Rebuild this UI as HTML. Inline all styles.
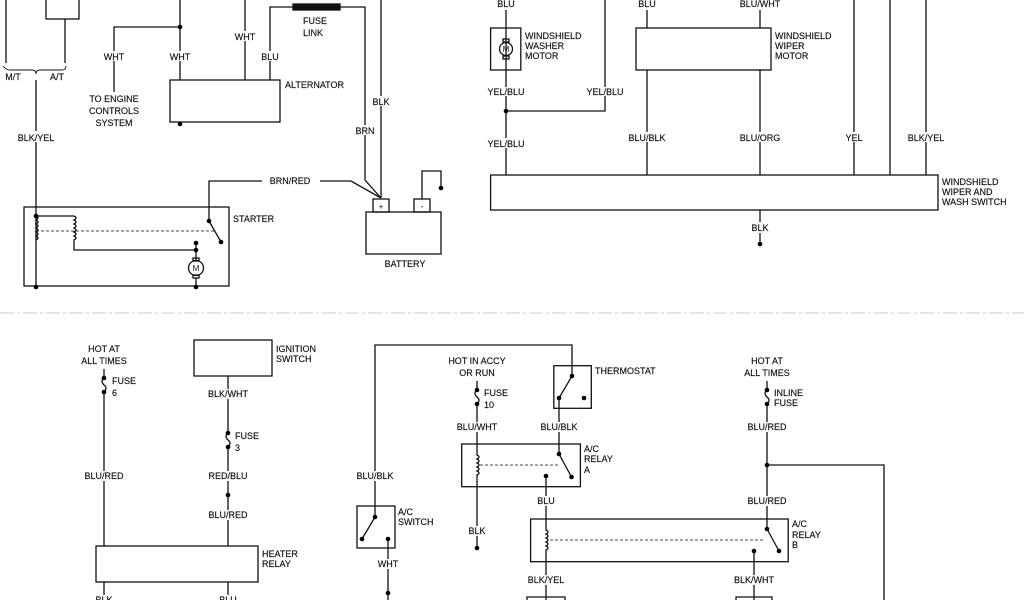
<!DOCTYPE html>
<html><head><meta charset="utf-8"><style>
html,body{margin:0;padding:0;background:#fff;}
svg{display:block;}
text{font-family:"Liberation Sans",Arial,sans-serif;font-size:9px;fill:#111;stroke:#111;stroke-width:0.15;}
.m{text-anchor:middle;}
</style></head><body>
<svg width="1024" height="600" viewBox="0 0 1024 600" xmlns="http://www.w3.org/2000/svg">
<defs>
<g id="dot"><circle r="2.3" fill="#000"/></g>
</defs>
<g stroke="#111" stroke-width="1.3" fill="none">
<!-- TOP LEFT -->
<line x1="6" y1="0" x2="6" y2="63"/>
<rect x="46" y="-2" width="33" height="21"/>
<line x1="65" y1="19" x2="65" y2="63"/>
<path d="M3 66 q3 4 7 4 h22 q4 0 4 4 q0 -4 4 -4 h22 q4 0 4 -4" stroke-width="0.9"/>
<line x1="36" y1="80" x2="36" y2="131"/>
<line x1="36" y1="142" x2="36" y2="287"/>
<line x1="180" y1="0" x2="180" y2="51"/>
<line x1="180" y1="61" x2="180" y2="80"/>
<path d="M180 27 H114 V51"/>
<line x1="114" y1="61" x2="114" y2="92"/>
<rect x="170" y="80" width="110" height="42"/>
<line x1="245" y1="0" x2="245" y2="31"/>
<line x1="245" y1="41" x2="245" y2="80"/>
<path d="M270 80 V61 M270 51 V7 H293"/>
<rect x="293" y="4" width="47" height="6" fill="#111"/>
<path d="M340 7 H365 V125 M365 135 V180 L381 198"/>
<path d="M381 0 V96 M381 106 V198"/>
<path d="M209 221 V181 H262 M320 181 H351 L381 198"/>
<rect x="373" y="199" width="16" height="13"/>
<rect x="414" y="199" width="16" height="13"/>
<rect x="366" y="212" width="75" height="42"/>
<path d="M422 199 V171 H441 V188"/>
<!-- starter -->
<rect x="24" y="207" width="205" height="79"/>
<path d="M36 216 q4 2 0 4 q4 2 0 4 q4 2 0 4 q4 2 0 4 q4 2 0 4 q4 2 0 4"/>
<path d="M36 216 H74 q4 2 0 4 q4 2 0 4 q4 2 0 4 q4 2 0 4 q4 2 0 4 q4 2 0 4 V250 H196"/>
<line x1="36" y1="231" x2="214" y2="231" stroke-dasharray="3,2" stroke-width="0.8"/>
<line x1="209" y1="221" x2="221" y2="242"/>
<line x1="196" y1="243" x2="196" y2="260"/>
<circle cx="196" cy="268" r="7.5"/>
<rect x="193" y="258" width="6" height="3"/><rect x="193" y="275" width="6" height="3"/>
<line x1="196" y1="278" x2="196" y2="287"/>
<!-- TOP RIGHT -->
<path d="M506 10 V28 M506 70 V87 M506 96 V138 M506 148 V175"/>
<rect x="490.6" y="28" width="30.2" height="42"/>
<line x1="506" y1="28" x2="506" y2="70"/>
<circle cx="506" cy="49" r="6.5"/>
<rect x="503" y="39" width="6" height="3"/><rect x="503" y="56" width="6" height="3"/>
<path d="M605 0 V87 M605 96 V111 H506"/>
<rect x="636" y="28" width="135" height="42"/>
<path d="M647 10 V28 M647 70 V132 M647 142 V175"/>
<path d="M760 10 V28 M760 70 V132 M760 142 V175"/>
<path d="M854 0 V132 M854 142 V175"/>
<line x1="890" y1="0" x2="890" y2="175"/>
<path d="M926 0 V132 M926 142 V175"/>
<rect x="490.6" y="175" width="447.4" height="35"/>
<path d="M760 210 V222 M760 233 V244"/>
<!-- separator -->
<line x1="0" y1="313" x2="1024" y2="313" stroke="#ccc" stroke-width="1" stroke-dasharray="14,3,3,3"/>
<!-- BOTTOM LEFT -->
<path d="M104 369 V378 q-4 3 0 7 q4 3 0 7 V471 M104 481 V546"/>
<rect x="194" y="340" width="78" height="36"/>
<path d="M228 376 V389 M228 399 V433 q-4 3 0 7 q4 3 0 7 V471 M228 481 V510 M228 520 V546"/>
<rect x="96" y="546" width="162" height="36"/>
<path d="M104 582 V595 M228 582 V595"/>
<path d="M375 471 V345 H572 V376"/>
<path d="M375 481 V517"/>
<rect x="357" y="506" width="38" height="42"/>
<line x1="375" y1="517" x2="362" y2="539"/>
<path d="M388 539 V559 M388 569 V600"/>
<!-- BOTTOM RIGHT -->
<rect x="553.8" y="365.7" width="37.5" height="42.6"/>
<line x1="572" y1="376" x2="559" y2="398"/>
<path d="M559 398 V422 M559 432 V454 L571.5 477"/>
<path d="M477 381 V390 q-4 3 0 7 q4 3 0 7 V422 M477 432 V455 q4 2 0 4 q4 2 0 4 q4 2 0 4 q4 2 0 4 q4 2 0 4 V526 M477 536 V548"/>
<rect x="461.7" y="444" width="118.7" height="42.7"/>
<line x1="480" y1="465" x2="559" y2="465" stroke-dasharray="3,2" stroke-width="0.8"/>
<path d="M546 476 V496 M546 506 V530 q4 2 0 4 q4 2 0 4 q4 2 0 4 q4 2 0 4 q4 2 0 4 V575 M546 585 V600"/>
<rect x="530.6" y="519" width="257.6" height="42.7"/>
<line x1="550" y1="540" x2="765" y2="540" stroke-dasharray="3,2" stroke-width="0.8"/>
<path d="M767 381 V390 q-4 3 0 7 q4 3 0 7 V422 M767 432 V496 M767 506 V529 L779 551"/>
<path d="M767 465 H884 V600"/>
<path d="M754 551 V575 M754 585 V600"/>
<path d="M527 600 V597 H565 V600 M736 600 V597 H772 V600"/>
</g>
<g fill="#000">
<use href="#dot" x="180" y="27"/><use href="#dot" x="180" y="124"/>
<use href="#dot" x="441" y="188"/>
<use href="#dot" x="36" y="216"/><use href="#dot" x="209" y="221"/><use href="#dot" x="221" y="242"/>
<use href="#dot" x="196" y="243"/><use href="#dot" x="196" y="250"/>
<use href="#dot" x="36" y="287"/><use href="#dot" x="196" y="287"/>
<use href="#dot" x="506" y="111"/><use href="#dot" x="760" y="244"/>
<use href="#dot" x="104" y="378"/><use href="#dot" x="104" y="392"/>
<use href="#dot" x="228" y="433"/><use href="#dot" x="228" y="447"/><use href="#dot" x="228" y="495"/>
<use href="#dot" x="375" y="517"/><use href="#dot" x="362" y="539"/><use href="#dot" x="388" y="539"/><use href="#dot" x="388" y="593"/>
<use href="#dot" x="572" y="376"/><use href="#dot" x="559" y="398"/><use href="#dot" x="584" y="398"/>
<use href="#dot" x="477" y="390"/><use href="#dot" x="477" y="404"/>
<use href="#dot" x="559" y="454"/><use href="#dot" x="571.5" y="477"/><use href="#dot" x="546" y="476"/>
<use href="#dot" x="477" y="548"/>
<use href="#dot" x="767" y="390"/><use href="#dot" x="767" y="404"/><use href="#dot" x="767" y="465"/>
<use href="#dot" x="767" y="529"/><use href="#dot" x="779" y="551"/><use href="#dot" x="754" y="551"/>
</g>
<g>
<text x="13" y="80" class="m">M/T</text><text x="57" y="80" class="m">A/T</text>
<text x="36" y="141" class="m">BLK/YEL</text>
<text x="114" y="60" class="m">WHT</text><text x="180" y="60" class="m">WHT</text><text x="245" y="40" class="m">WHT</text><text x="270" y="60" class="m">BLU</text>
<text x="114" y="102" class="m">TO ENGINE</text><text x="114" y="114" class="m">CONTROLS</text><text x="114" y="126" class="m">SYSTEM</text>
<text x="285" y="88">ALTERNATOR</text>
<text x="315" y="24" class="m">FUSE</text><text x="313" y="36" class="m">LINK</text>
<text x="381" y="105" class="m">BLK</text><text x="365" y="134" class="m">BRN</text>
<text x="290" y="184" class="m">BRN/RED</text>
<text x="233" y="222">STARTER</text>
<text x="381" y="209" class="m" style="font-size:7px">+</text><text x="422" y="209" class="m" style="font-size:7px">-</text>
<text x="405" y="267" class="m">BATTERY</text>
<text x="196" y="271" class="m" style="font-size:8px;stroke-width:0">M</text>
<text x="506" y="52" class="m" style="font-size:8px;stroke-width:0">M</text>
<text x="506" y="7" class="m">BLU</text><text x="647" y="7" class="m">BLU</text><text x="760" y="7" class="m">BLU/WHT</text>
<text x="525" y="39">WINDSHIELD</text><text x="525" y="49">WASHER</text><text x="525" y="59">MOTOR</text>
<text x="775" y="39">WINDSHIELD</text><text x="775" y="49">WIPER</text><text x="775" y="59">MOTOR</text>
<text x="506" y="95" class="m">YEL/BLU</text><text x="605" y="95" class="m">YEL/BLU</text><text x="506" y="147" class="m">YEL/BLU</text>
<text x="647" y="141" class="m">BLU/BLK</text><text x="760" y="141" class="m">BLU/ORG</text><text x="854" y="141" class="m">YEL</text><text x="926" y="141" class="m">BLK/YEL</text>
<text x="942" y="185">WINDSHIELD</text><text x="942" y="195">WIPER  AND</text><text x="942" y="205">WASH SWITCH</text>
<text x="760" y="231" class="m">BLK</text>
<text x="104" y="352" class="m">HOT  AT</text><text x="104" y="364" class="m">ALL  TIMES</text>
<text x="112" y="384">FUSE</text><text x="112" y="396">6</text>
<text x="104" y="479" class="m">BLU/RED</text>
<text x="276" y="352">IGNITION</text><text x="276" y="362">SWITCH</text>
<text x="228" y="397" class="m">BLK/WHT</text>
<text x="235" y="439">FUSE</text><text x="235" y="451">3</text>
<text x="228" y="479" class="m">RED/BLU</text><text x="228" y="518" class="m">BLU/RED</text>
<text x="262" y="557">HEATER</text><text x="262" y="567">RELAY</text>
<text x="104" y="603" class="m">BLK</text><text x="228" y="603" class="m">BLU</text>
<text x="375" y="479" class="m">BLU/BLK</text>
<text x="398" y="515">A/C</text><text x="398" y="525">SWITCH</text>
<text x="388" y="567" class="m">WHT</text>
<text x="477" y="364" class="m">HOT  IN  ACCY</text><text x="477" y="376" class="m">OR  RUN</text>
<text x="484" y="396">FUSE</text><text x="484" y="408">10</text>
<text x="595" y="374">THERMOSTAT</text>
<text x="477" y="430" class="m">BLU/WHT</text><text x="559" y="430" class="m">BLU/BLK</text>
<text x="584" y="452">A/C</text><text x="584" y="462">RELAY</text><text x="584" y="473">A</text>
<text x="477" y="534" class="m">BLK</text>
<text x="546" y="504" class="m">BLU</text>
<text x="767" y="364" class="m">HOT  AT</text><text x="767" y="376" class="m">ALL  TIMES</text>
<text x="774" y="396">INLINE</text><text x="774" y="406">FUSE</text>
<text x="767" y="430" class="m">BLU/RED</text><text x="767" y="504" class="m">BLU/RED</text>
<text x="792" y="527">A/C</text><text x="792" y="538">RELAY</text><text x="792" y="548">B</text>
<text x="546" y="583" class="m">BLK/YEL</text><text x="754" y="583" class="m">BLK/WHT</text>
</g>
</svg>
</body></html>
